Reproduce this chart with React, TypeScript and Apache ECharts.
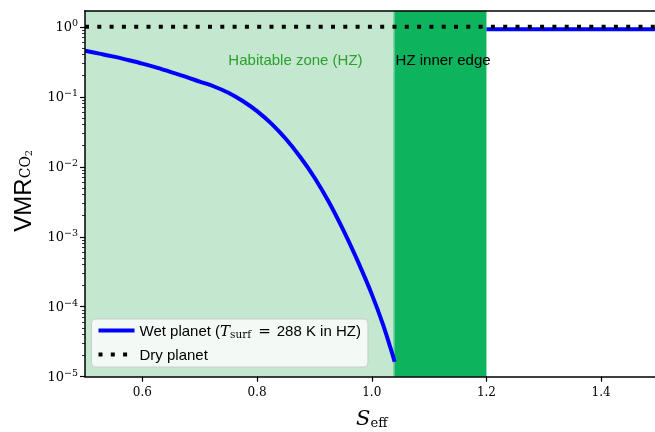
import React, { useEffect, useRef } from "react";
import * as echarts from "echarts";

// ---- data ----
const WET = "Wet planet";
const DRY = "Dry planet";
const sEffHZ = [0.5, 0.525, 0.55, 0.575, 0.6, 0.625, 0.65, 0.675, 0.7, 0.725, 0.75, 0.775, 0.8, 0.825, 0.85, 0.875, 0.9, 0.925, 0.95, 0.975, 1.0, 1.02, 1.04];
const vmrWetHZ = [0.4556, 0.414, 0.3753, 0.3356, 0.298, 0.2606, 0.2254, 0.1937, 0.1649, 0.1403, 0.1143, 0.0872, 0.0625, 0.0413, 0.0251, 0.01389, 0.00703, 0.003162, 0.001263, 4.6e-4, 1.514e-4, 5.44e-5, 1.633e-5];
const sEffHot = [1.2, 1.5];
const vmrWetHot = [0.92, 0.92];
const sEffDry = [0.5, 1.5];
const vmrDry = [1, 1];
const hzRange = [0.5, 1.0375];
const innerEdgeRange = [1.0395, 1.2];
const xTicks = [0.6, 0.8, 1.0, 1.2, 1.4];
const yMajor = [1e-5, 1e-4, 1e-3, 1e-2, 1e-1, 1];
const yMinor: number[] = [];
for (let e = -5; e <= -1; e++) for (let k = 2; k <= 9; k++) yMinor.push(k * Math.pow(10, e));

const SERIF = "DejaVu Serif";
const SANS = "Liberation Sans";
const GRID_LEFT = 85;
const GRID_WIDTH = 573.5;

export default function App() {
  const ref = useRef<HTMLDivElement>(null);
  useEffect(() => {
    if (!ref.current) return;
    const chart = echarts.init(ref.current, null, { renderer: "svg" });
    const zip = (xs: number[], ys: number[]) => xs.map((x, i) => [x, ys[i]]);
    chart.setOption({
      animation: false,
      grid: { left: GRID_LEFT, right: 655 - GRID_LEFT - GRID_WIDTH, top: 10.7, bottom: 55.3, containLabel: false, outerBoundsMode: "none" },
      legend: {
        data: [WET, DRY],
        orient: "vertical",
        left: 91.5,
        top: 319,
        itemWidth: 36,
        itemHeight: 14,
        itemGap: 8,
        padding: [4, 7, 5, 5],
        backgroundColor: "rgba(255,255,255,0.8)",
        borderColor: "#cccccc",
        borderWidth: 1,
        borderRadius: 4,
        itemStyle: { opacity: 0 },
        lineStyle: { width: 4 },
        formatter: (name: string) =>
          name === WET ? "{t|Wet planet (}{m|T}{sub|surf}{q|=}{t|288 K in HZ)}" : "{t|Dry planet}",
        textStyle: {
          color: "#000",
          rich: {
            t: { fontFamily: SANS, fontSize: 15, color: "#000", lineHeight: 18 },
            m: { fontFamily: SERIF, fontStyle: "italic", fontSize: 15, color: "#000", lineHeight: 18 },
            sub: { fontFamily: SERIF, fontSize: 10.5, color: "#000", padding: [6, 1, 0, 0] },
            q: { fontFamily: SERIF, fontSize: 15, color: "#000", lineHeight: 18, padding: [0, 6, 0, 6] },
          },
        },
      },
      xAxis: [
        {
          type: "value",
          min: 0.5,
          max: 1.5,
          z: 10,
          splitLine: { show: false },
          axisLine: { show: true, lineStyle: { color: "#000", width: 1.5 } },
          axisTick: { show: true, customValues: xTicks, length: 5, lineStyle: { color: "#000", width: 1.2 } },
          axisLabel: {
            customValues: xTicks,
            formatter: (v: number) => v.toFixed(1),
            fontFamily: SERIF,
            fontSize: 12,
            color: "#000",
            margin: 9,
          },
          name: "{s|S}{e|eff}",
          nameLocation: "middle",
          nameGap: 30,
          nameTextStyle: {
            rich: {
              s: { fontFamily: SERIF, fontStyle: "italic", fontSize: 21, color: "#000" },
              e: { fontFamily: SERIF, fontSize: 13, color: "#000", padding: [9, 0, 0, 0] },
            },
          },
        },
        {
          type: "value",
          position: "top",
          min: 0.5,
          max: 1.5,
          z: 10,
          splitLine: { show: false },
          axisLine: { show: true, onZero: false, lineStyle: { color: "#000", width: 1.5 } },
          axisTick: { show: false },
          axisLabel: { show: false },
        },
      ],
      yAxis: [
        {
          type: "log",
          logBase: 10,
          min: 1e-5,
          max: 1.7,
          position: "left",
          z: 10,
          splitLine: { show: false },
          axisLine: { show: true, lineStyle: { color: "#000", width: 1.5 } },
          axisTick: { show: true, customValues: yMajor, length: 5, lineStyle: { color: "#000", width: 1.2 } },
          axisLabel: {
            customValues: yMajor,
            margin: 7,
            formatter: (v: number) => {
              const e = Math.round(Math.log10(v));
              return "{b|10}{e|" + (e < 0 ? "\u2212" + -e : String(e)) + "}";
            },
            rich: {
              b: { fontFamily: SERIF, fontSize: 13, color: "#000" },
              e: { fontFamily: SERIF, fontSize: 9.5, color: "#000", padding: [0, 0, 8, 0] },
            },
          },
          name: "{a|VMR}{c|CO}{n|2}",
          nameLocation: "middle",
          nameRotate: 90,
          nameGap: 51,
          nameTextStyle: {
            padding: [0, 0, 0, 6],
            rich: {
              a: { fontFamily: SANS, fontSize: 24, color: "#000" },
              c: { fontFamily: SERIF, fontSize: 14, color: "#000", padding: [6, 0, 0, 0] },
              n: { fontFamily: SERIF, fontSize: 10, color: "#000", padding: [13, 0, 0, 0] },
            },
          },
        },
        {
          type: "log",
          logBase: 10,
          min: 1e-5,
          max: 1.7,
          position: "right",
          offset: -GRID_WIDTH,
          z: 10,
          splitLine: { show: false },
          axisLine: { show: false },
          axisLabel: { show: false },
          axisTick: { show: true, inside: true, customValues: yMinor, length: 3, lineStyle: { color: "#000", width: 0.8 } },
        },
      ],
      series: [
        {
          name: "regions",
          type: "line",
          data: [],
          z: 1,
          silent: true,
          markArea: {
            silent: true,
            data: [
              [{ xAxis: hzRange[0], itemStyle: { color: "#c4e7cf" } }, { xAxis: hzRange[1] }],
              [{ xAxis: hzRange[1], itemStyle: { color: "#62c98d" } }, { xAxis: innerEdgeRange[0] }],
              [{ xAxis: innerEdgeRange[0], itemStyle: { color: "#0eb35e" } }, { xAxis: innerEdgeRange[1] }],
            ],
          },
          markPoint: {
            silent: true,
            symbol: "circle",
            symbolSize: 0,
            data: [
              {
                coord: [0.867, 0.346],
                label: { show: true, position: "inside", formatter: "Habitable zone (HZ)", color: "#2ca02c", fontFamily: SANS, fontSize: 15 },
              },
              {
                coord: [1.0415, 0.346],
                label: { show: true, position: "right", distance: 0, formatter: "HZ inner edge", color: "#000", fontFamily: SANS, fontSize: 15 },
              },
            ],
          },
        },
        {
          name: WET,
          type: "line",
          data: zip(sEffHZ, vmrWetHZ),
          showSymbol: false,
          symbol: "none",
          smooth: 0.35,
          z: 3,
          lineStyle: { color: "#0000ff", width: 4 },
          itemStyle: { color: "#0000ff" },
        },
        {
          name: WET,
          type: "line",
          data: zip(sEffHot, vmrWetHot),
          showSymbol: false,
          symbol: "none",
          z: 3,
          lineStyle: { color: "#0000ff", width: 4 },
          itemStyle: { color: "#0000ff" },
        },
        {
          name: DRY,
          type: "line",
          data: zip(sEffDry, vmrDry),
          showSymbol: false,
          symbol: "none",
          z: 4,
          lineStyle: { color: "#000", width: 4, type: [4, 8.3], cap: "butt" },
          itemStyle: { color: "#000" },
        },
      ],
    });
    return () => chart.dispose();
  }, []);
  return <div ref={ref} style={{ position: "fixed", left: 0, top: 0, width: 655, height: 432 }} />;
}
